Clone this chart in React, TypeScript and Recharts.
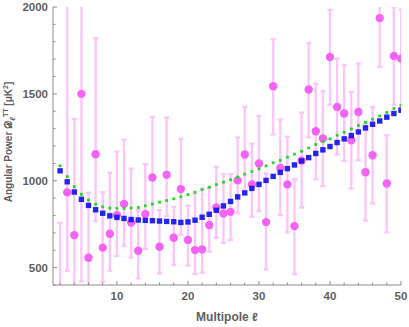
import React from 'react';
import { ComposedChart, Scatter, XAxis, YAxis, ErrorBar } from 'recharts';

const multipoles = [2, 3, 4, 5, 6, 7, 8, 9, 10, 11, 12, 13, 14, 15, 16, 17, 18, 19, 20, 21, 22, 23, 24, 25, 26, 27, 28, 29, 30, 31, 32, 33, 34, 35, 36, 37, 38, 39, 40, 41, 42, 43, 44, 45, 46, 47, 48, 49, 50];

const observed = [300, 933, 687, 1500, 557, 1153, 615, 695, 802, 867, 760, 597, 808, 1019, 620, 1034, 672, 952, 659, 601, 605, 745, 846, 812, 821, 1002, 1151, 979, 1099, 762, 1544, 1074, 979, 739, 1116, 1525, 1285, 1243, 1712, 1425, 1387, 1233, 1396, 1049, 1147, 1936, 984, 1718, 1703];

const lowerBound = [60, 482, 150, 420, 250, 770, 419, 482, 567, 626, 557, 438, 607, 775, 467, 797, 515, 690, 511, 463, 471, 592, 672, 643, 659, 812, 936, 793, 825, 490, 1266, 802, 703, 463, 846, 1249, 1009, 969, 1438, 1151, 1113, 956, 1118, 770, 869, 1655, 703, 1438, 1421];

const upperBound = [758, 2250, 1356, 2600, 931, 1821, 934, 1046, 1168, 1237, 1070, 831, 1095, 1367, 831, 1364, 850, 1241, 856, 927, 954, 959, 1080, 1038, 1038, 1249, 1425, 1214, 1373, 1042, 1814, 1352, 1253, 1009, 1392, 1793, 1559, 1517, 1984, 1703, 1664, 1511, 1674, 1329, 1425, 2216, 1262, 1998, 1985];

const modelBlue = [1057, 994, 935, 893, 858, 833, 813, 798, 789, 783, 777, 774, 772, 770, 768, 766, 764, 760, 763, 773, 790, 807, 830, 855, 881, 907, 930, 956, 979, 1002, 1025, 1048, 1070, 1091, 1114, 1133, 1157, 1178, 1197, 1220, 1241, 1260, 1281, 1304, 1325, 1344, 1366, 1387, 1406];

const modelGreen = [1086, 1024, 966, 922, 889, 865, 850, 843, 841, 841, 843, 846, 856, 866, 877, 886, 896, 908, 920, 934, 949, 963, 978, 992, 1006, 1022, 1038, 1053, 1068, 1086, 1104, 1117, 1136, 1153, 1170, 1189, 1209, 1226, 1241, 1262, 1279, 1298, 1318, 1337, 1354, 1373, 1393, 1416, 1434];

const xTicks = [2, 4, 6, 8, 10, 12, 14, 16, 18, 20, 22, 24, 26, 28, 30, 32, 34, 36, 38, 40, 42, 44, 46, 48, 50];
const yTicks = [400, 500, 600, 700, 800, 900, 1000, 1100, 1200, 1300, 1400, 1500, 1600, 1700, 1800, 1900, 2000];

const obsData = multipoles.map((l, i) => ({
  l,
  v: observed[i],
  err: [observed[i] - lowerBound[i], upperBound[i] - observed[i]],
}));
const blueData = multipoles.map((l, i) => ({ l, v: modelBlue[i] }));
const greenData = multipoles.map((l, i) => ({ l, v: modelGreen[i] }));

const FRAME = '#8c8c8c';
const TEXT = '#5f5f5f';
const FONT = '"Liberation Sans", Arial, sans-serif';

const CHART_W = 409;
const CHART_H = 327;
const MARGIN = { top: 7, right: 8, bottom: 0, left: 0 };
const Y_AXIS_W = 53;
const X_AXIS_H = 42;
const PLOT = {
  x: MARGIN.left + Y_AXIS_W,
  y: MARGIN.top,
  w: CHART_W - MARGIN.left - MARGIN.right - Y_AXIS_W,
  h: CHART_H - MARGIN.top - MARGIN.bottom - X_AXIS_H,
};

const BottomTick = (p: any) => {
  const { x, y, payload } = p;
  const major = payload.value % 10 === 0;
  return (
    <g>
      <line x1={x} x2={x} y1={y} y2={y - (major ? 4 : 2.5)} stroke={FRAME} strokeWidth={1} />
      {major && (
        <text x={x} y={y + 15} textAnchor="middle" fontFamily={FONT} fontWeight="bold" fontSize={11.5} fill={TEXT}>
          {payload.value}
        </text>
      )}
    </g>
  );
};

const TopTick = (p: any) => {
  const { x, y, payload } = p;
  const major = payload.value % 10 === 0;
  return <line x1={x} x2={x} y1={y} y2={y + (major ? 4 : 2.5)} stroke={FRAME} strokeWidth={1} />;
};

const LeftTick = (p: any) => {
  const { x, y, payload } = p;
  const major = payload.value % 500 === 0;
  return (
    <g>
      <line x1={x} x2={x + (major ? 4 : 2.5)} y1={y} y2={y} stroke={FRAME} strokeWidth={1} />
      {major && (
        <text x={x - 5} y={y + 4} textAnchor="end" fontFamily={FONT} fontWeight="bold" fontSize={11.5} fill={TEXT}>
          {payload.value}
        </text>
      )}
    </g>
  );
};

const RightTick = (p: any) => {
  const { x, y, payload } = p;
  const major = payload.value % 500 === 0;
  return <line x1={x} x2={x - (major ? 4 : 2.5)} y1={y} y2={y} stroke={FRAME} strokeWidth={1} />;
};

const YLabel = (p: any) => {
  const vb = p.viewBox || { x: 0, y: PLOT.y, width: Y_AXIS_W, height: PLOT.h };
  const cy = vb.y + vb.height / 2 - 4;
  return (
    <text
      transform={`translate(12, ${cy}) rotate(-90)`}
      x={0}
      y={0}
      textAnchor="middle"
      fontFamily={FONT}
      fontWeight="bold"
      fontSize={10}
      fill={TEXT}
    >
      <tspan>Angular Power 𝒟</tspan>
      <tspan dy={2.5} fontSize={7.5} fontStyle="italic">ℓ</tspan>
      <tspan dy={-7} fontSize={7}>TT</tspan>
      <tspan dy={4.5}> [μK</tspan>
      <tspan dy={-4} fontSize={7}>2</tspan>
      <tspan dy={4}>]</tspan>
    </text>
  );
};

const XLabel = (p: any) => {
  const vb = p.viewBox || { x: PLOT.x, y: PLOT.y + PLOT.h, width: PLOT.w, height: X_AXIS_H };
  return (
    <text x={vb.x + vb.width / 2} y={321} textAnchor="middle" fontFamily={FONT} fontWeight="bold" fontSize={12} fill={TEXT}>
      Multipole ℓ
    </text>
  );
};

const NoShape = () => <g />;

const Disk = (p: any) => <circle cx={p.cx} cy={p.cy} r={4.2} fill="#f563f5" />;

const BlueSquare = (p: any) => <rect x={p.cx - 2.7} y={p.cy - 2.7} width={5.4} height={5.4} fill="#1212ee" fillOpacity={0.92} />;

const GreenDot = (p: any) => <rect x={p.cx - 1.4} y={p.cy - 1.4} width={2.8} height={2.8} fill="#22d822" />;

export default function App() {
  return (
    <div style={{ position: 'absolute', left: 0, top: 0, background: '#fff' }}>
      <svg width={0} height={0} style={{ position: 'absolute' }}>
        <defs>
          <clipPath id="plotClip" clipPathUnits="userSpaceOnUse">
            <rect x={PLOT.x} y={PLOT.y} width={PLOT.w} height={PLOT.h} />
          </clipPath>
        </defs>
      </svg>
      <style>{`.recharts-errorBars, .recharts-errorBar { clip-path: url(#plotClip); }`}</style>
      <ComposedChart width={CHART_W} height={CHART_H} margin={MARGIN}>
        <XAxis
          xAxisId="b"
          dataKey="l"
          type="number"
          domain={[1, 50]}
          allowDataOverflow
          ticks={xTicks}
          interval={0}
          tickSize={0}
          tickMargin={0}
          tickLine={false}
          tick={<BottomTick />}
          axisLine={{ stroke: FRAME }}
          height={X_AXIS_H}
          label={<XLabel />}
        />
        <XAxis
          xAxisId="t"
          orientation="top"
          dataKey="l"
          type="number"
          domain={[1, 50]}
          allowDataOverflow
          ticks={xTicks}
          interval={0}
          tickSize={0}
          tickMargin={0}
          tickLine={false}
          tick={<TopTick />}
          axisLine={{ stroke: FRAME }}
          height={0}
        />
        <YAxis
          yAxisId="l"
          dataKey="v"
          type="number"
          domain={[400, 2000]}
          allowDataOverflow
          ticks={yTicks}
          interval={0}
          tickSize={0}
          tickMargin={0}
          tickLine={false}
          tick={<LeftTick />}
          axisLine={{ stroke: FRAME }}
          width={Y_AXIS_W}
          label={<YLabel />}
        />
        <YAxis
          yAxisId="r"
          orientation="right"
          dataKey="v"
          type="number"
          domain={[400, 2000]}
          allowDataOverflow
          ticks={yTicks}
          interval={0}
          tickSize={0}
          tickMargin={0}
          tickLine={false}
          tick={<RightTick />}
          axisLine={{ stroke: FRAME }}
          width={0}
        />
        <Scatter xAxisId="b" yAxisId="l" data={obsData} dataKey="v" shape={NoShape} isAnimationActive={false}>
          <ErrorBar
            dataKey="err"
            direction="y"
            width={2.5}
            stroke="#fcc4fa"
            strokeWidth={2.3}
            clipPath="url(#plotClip)"
            isAnimationActive={false}
          />
        </Scatter>
        <Scatter xAxisId="b" yAxisId="l" data={obsData} dataKey="v" shape={Disk} isAnimationActive={false} />
        <Scatter xAxisId="b" yAxisId="l" data={blueData} dataKey="v" shape={BlueSquare} isAnimationActive={false} />
        <Scatter xAxisId="b" yAxisId="l" data={greenData} dataKey="v" shape={GreenDot} isAnimationActive={false} />
      </ComposedChart>
    </div>
  );
}
